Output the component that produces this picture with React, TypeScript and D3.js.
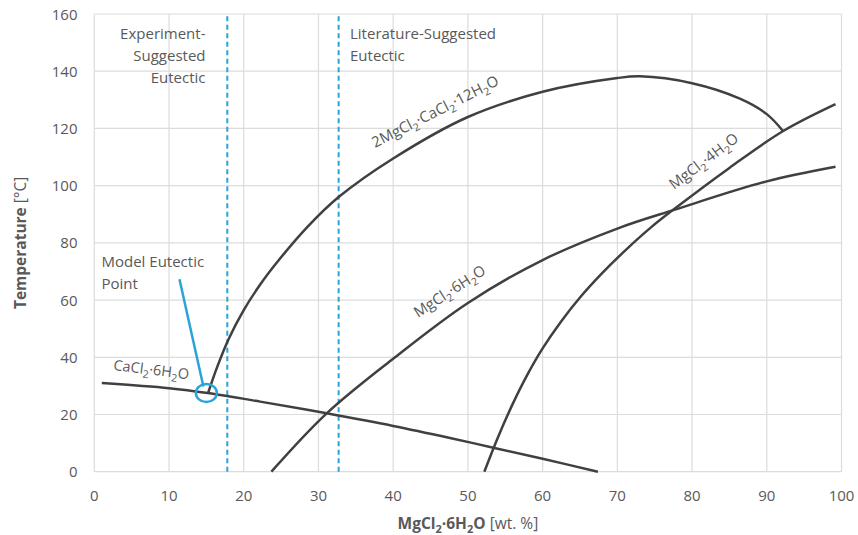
import React from 'react'
import * as d3 from 'd3'

// solubility curves: [wt.% MgCl2·6H2O, temperature °C]
const cacl2Hexahydrate: [number, number][] = [
  [1, 31], [10, 29.2], [15.2, 27.5], [22.2, 24.5], [31.1, 20.4], [40, 16],
  [47.6, 11.8], [53.4, 8.4], [60, 4.5], [67.4, 0],
]
const doubleSalt: [number, number][] = [
  [15.2, 27.3], [16.5, 37], [18, 46.5], [20, 56.5], [22.3, 65.8], [24.7, 74],
  [28.5, 85.5], [32.7, 96], [40, 109.5], [50, 124], [60, 132.8], [70, 137.6],
  [73, 138.2], [80, 135.8], [86.4, 130.4], [90, 125], [92.2, 119],
]
const mgcl2Hexahydrate: [number, number][] = [
  [23.7, 0], [31.1, 20.4], [40, 39.5], [50, 59], [60, 74], [70, 85],
  [77.7, 91.6], [90, 101.5], [99.2, 106.6],
]
const mgcl2Tetrahydrate: [number, number][] = [
  [52.2, 0], [54, 11.9], [56, 23.7], [58, 34.1], [60, 43.1], [62.5, 52.6],
  [65, 60.9], [68, 69.5], [71, 77.2], [74.5, 85.4], [77.7, 92], [85, 106.2],
  [92.2, 119.1], [99.2, 128.5],
]

const curves = [cacl2Hexahydrate, doubleSalt, mgcl2Hexahydrate, mgcl2Tetrahydrate]

const eutecticLines = [17.8, 32.7]
const modelEutectic: [number, number] = [15, 27.5]

const xTicks = [0, 10, 20, 30, 40, 50, 60, 70, 80, 90, 100]
const yTicks = [0, 20, 40, 60, 80, 100, 120, 140, 160]

const FONT = '"Open Sans", sans-serif'
const TEXT = '#595959'
const CURVE = '#404040'
const BLUE = '#2aa3d8'
const GRID = '#dcdcdc'

// digits right after a letter are subscripts (H2O, Cl2), the rest stay inline
function Formula({ f, sub = 10.5 }: { f: string; sub?: number }) {
  const parts: { t: string; s: boolean }[] = []
  for (let i = 0; i < f.length; i++) {
    const c = f[i]
    const isSub = /[0-9]/.test(c) && i > 0 && /[A-Za-z]/.test(f[i - 1])
    const last = parts[parts.length - 1]
    if (last && last.s === isSub && !isSub) last.t += c
    else parts.push({ t: c, s: isSub })
  }
  return (
    <>
      {parts.map((p, i) =>
        p.s ? (
          <tspan key={i} fontSize={sub} dy={4}>{p.t}</tspan>
        ) : (
          <tspan key={i} dy={i > 0 && parts[i - 1].s ? -4 : 0}>{p.t}</tspan>
        )
      )}
    </>
  )
}

export default function App() {
  const width = 858
  const height = 535

  const x = d3.scaleLinear().domain([0, 100]).range([94.3, 841.5])
  const y = d3.scaleLinear().domain([0, 160]).range([471.7, 14])

  const line = d3.line<[number, number]>()
    .x(d => x(d[0]))
    .y(d => y(d[1]))
    .curve(d3.curveCatmullRom.alpha(0.5))

  const [ex, ey] = modelEutectic

  return (
    <svg width={width} height={height} style={{ position: 'absolute', left: 0, top: 0, background: '#fff' }}
      fontFamily={FONT}>
      {/* grid */}
      {xTicks.map(t => (
        <line key={'gx' + t} x1={x(t)} x2={x(t)} y1={y(0)} y2={y(160)} stroke={GRID} strokeWidth={1.2} />
      ))}
      {yTicks.map(t => (
        <line key={'gy' + t} x1={x(0)} x2={x(100)} y1={y(t)} y2={y(t)} stroke={GRID} strokeWidth={1.2} />
      ))}

      {/* tick labels */}
      {xTicks.map(t => (
        <text key={'tx' + t} x={x(t)} y={501} textAnchor="middle" fontSize={15} fill={TEXT}>{t}</text>
      ))}
      {yTicks.map(t => (
        <text key={'ty' + t} x={77.5} y={y(t) + 5.5} textAnchor="end" fontSize={15} fill={TEXT}>{t}</text>
      ))}

      {/* eutectic guides */}
      {eutecticLines.map(v => (
        <line key={'e' + v} x1={x(v)} x2={x(v)} y1={y(0)} y2={y(160)} stroke={BLUE} strokeWidth={2} strokeDasharray="5,3.5" />
      ))}

      {/* curves */}
      {curves.map((c, i) => (
        <path key={'c' + i} d={line(c) ?? ''} fill="none" stroke={CURVE} strokeWidth={2.5} />
      ))}

      {/* model eutectic marker */}
      <line x1={x(11.4)} y1={y(67.3)} x2={x(14.6)} y2={y(29.8)} stroke={BLUE} strokeWidth={2.5} />
      <ellipse cx={x(ex)} cy={y(ey)} rx={10.5} ry={9} fill="none" stroke={BLUE} strokeWidth={2.5} />

      {/* annotations */}
      <text fontSize={15} fill={TEXT} textAnchor="end">
        <tspan x={205.5} y={38.5}>Experiment-</tspan>
        <tspan x={205.5} y={60.5}>Suggested</tspan>
        <tspan x={205.5} y={82.5}>Eutectic</tspan>
      </text>
      <text fontSize={15} fill={TEXT}>
        <tspan x={350} y={38.5}>Literature-Suggested</tspan>
        <tspan x={350} y={60.5}>Eutectic</tspan>
      </text>
      <text fontSize={15} fill={TEXT}>
        <tspan x={101.5} y={267}>Model Eutectic</tspan>
        <tspan x={101.5} y={289}>Point</tspan>
      </text>

      {/* curve labels */}
      <text transform="translate(113,370) rotate(7)" fontSize={14.5} fill={TEXT}>
        <Formula f="CaCl2·6H2O" />
      </text>
      <text transform="translate(375,148) rotate(-27)" fontSize={15} fill={TEXT}>
        <Formula f="2MgCl2·CaCl2·12H2O" />
      </text>
      <text transform="translate(418,318) rotate(-33)" fontSize={15} fill={TEXT}>
        <Formula f="MgCl2·6H2O" />
      </text>
      <text transform="translate(674,190) rotate(-37)" fontSize={15} fill={TEXT}>
        <Formula f="MgCl2·4H2O" />
      </text>

      {/* axis titles */}
      <text x={x(50)} y={529} textAnchor="middle" fontSize={15.5} fill={TEXT}>
        <tspan fontWeight="bold"><Formula f="MgCl2·6H2O" sub={11} /></tspan>
        <tspan> [wt. %]</tspan>
      </text>
      <text transform={`translate(26,${(y(0) + y(160)) / 2}) rotate(-90)`} textAnchor="middle" fontSize={15.5} fill={TEXT}>
        <tspan fontWeight="bold">Temperature</tspan>
        <tspan> [°C]</tspan>
      </text>
    </svg>
  )
}
